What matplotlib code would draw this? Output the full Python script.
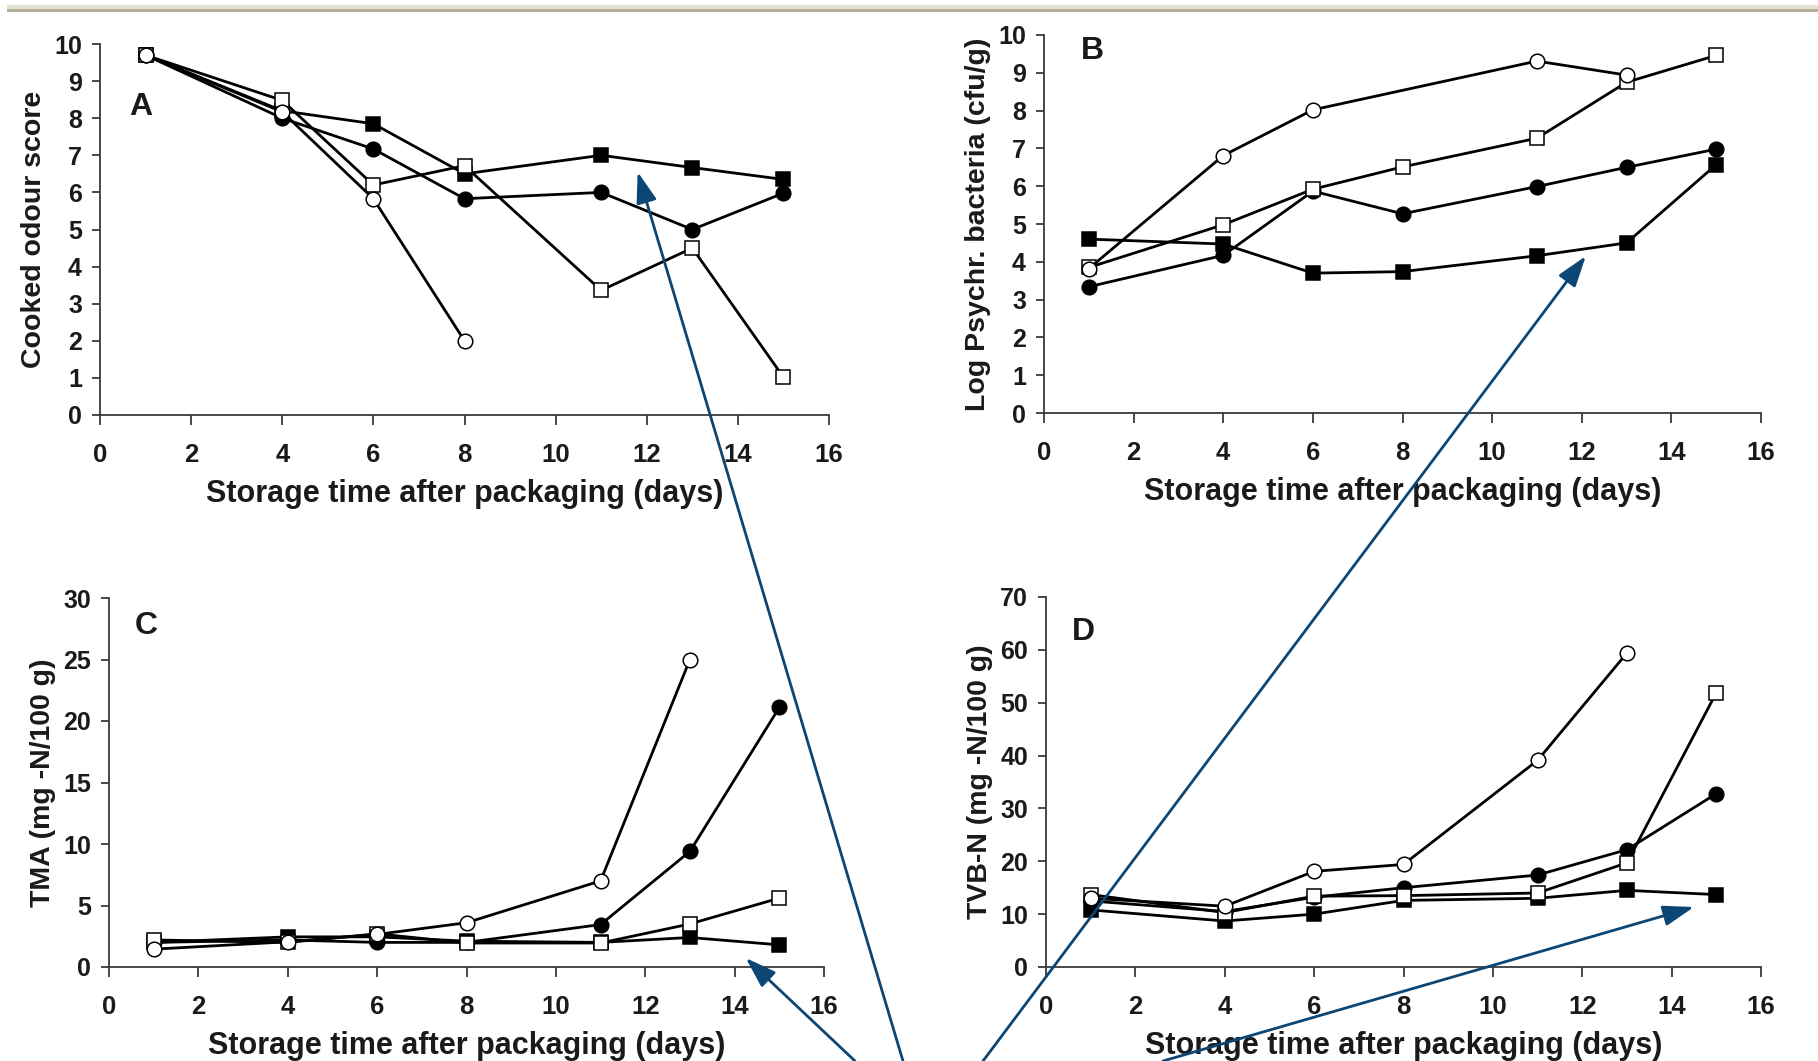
import numpy as np
import matplotlib
matplotlib.use("Agg")
import matplotlib.pyplot as plt
from matplotlib.patches import ConnectionPatch, Rectangle, ArrowStyle

plt.rcParams['font.family'] = ['Liberation Sans', 'DejaVu Sans']

nan = np.nan
days = [1, 4, 6, 8, 11, 13, 15]

# Panel A - cooked odour score
a_filled_sq = [9.7, 8.2, 7.85, 6.5, 7.0, 6.67, 6.35]
a_filled_ci = [9.7, 8.0, 7.17, 5.83, 6.0, 5.0, 5.98]
a_open_sq = [9.7, 8.48, 6.2, 6.72, 3.36, 4.5, 1.02]
a_open_ci = [9.7, 8.17, 5.83, 2.0, nan, nan, nan]

# Panel B - log psychrotrophic bacteria
b_filled_sq = [4.6, 4.47, 3.7, 3.74, 4.16, 4.5, 6.57]
b_filled_ci = [3.34, 4.17, 5.87, 5.27, 5.99, 6.5, 6.98]
b_open_sq = [3.85, 4.98, 5.92, 6.51, 7.27, 8.75, 9.46]
b_open_ci = [3.82, 6.81, 8.02, nan, 9.31, 8.94, nan]

# Panel C - TMA
c_filled_sq = [2.0, 2.45, 2.45, 2.1, 2.0, 2.4, 1.8]
c_filled_ci = [2.0, 2.2, 2.0, 2.0, 3.45, 9.4, 21.1]
c_open_sq = [2.2, 2.0, 2.7, 1.95, 1.95, 3.5, 5.6]
c_open_ci = [1.45, 2.05, 2.65, 3.6, 7.0, 25.0, nan]

# Panel D - TVB-N
d_filled_sq = [10.8, 8.7, 10.0, 12.6, 13.0, 14.5, 13.7]
d_filled_ci = [12.5, 10.5, 13.2, 15.0, 17.4, 22.2, 32.8]
d_open_sq = [13.7, 10.3, 13.4, 13.5, 14.0, 19.7, 51.9]
d_open_ci = [13.0, 11.5, 18.1, 19.4, 39.1, 59.4, nan]

xlabel = "Storage time after packaging (days)"
ylabels = ["Cooked odour score", "Log Psychr. bacteria (cfu/g)",
           "TMA (mg -N/100 g)", "TVB-N (mg -N/100 g)"]
letters = ["A", "B", "C", "D"]
ymax = [10, 10, 30, 70]
ystep = [1, 1, 5, 10]

W, H = 1818, 1061
fig = plt.figure(figsize=(W / 100, H / 100), dpi=100)
fig.patch.set_facecolor('white')

def rect(x0, x1, y0, y1):
    return [x0 / W, 1 - y0 / H, (x1 - x0) / W, (y0 - y1) / H]

positions = [rect(100, 829, 415, 44), rect(1044, 1761, 413, 35),
             rect(109, 824, 967, 598), rect(1046, 1761, 967, 597)]

panels = [
    (a_filled_sq, a_filled_ci, a_open_sq, a_open_ci),
    (b_filled_sq, b_filled_ci, b_open_sq, b_open_ci),
    (c_filled_sq, c_filled_ci, c_open_sq, c_open_ci),
    (d_filled_sq, d_filled_ci, d_open_sq, d_open_ci),
]
styles = [('s', 'black'), ('o', 'black'), ('s', 'white'), ('o', 'white')]

axes = []
spine_col = '#3a3a3a'
txt_col = '#1a1a1a'
for i, (pos, series) in enumerate(zip(positions, panels)):
    ax = fig.add_axes(pos)
    ax.set_facecolor('none')
    for vals, (mk, fc) in zip(series, styles):
        v = np.array(vals, dtype=float)
        x = np.array(days, dtype=float)
        ok = ~np.isnan(v)
        ax.plot(x[ok], v[ok], color='black', lw=2.0, marker=mk,
                markersize=10 if mk == 's' else 10.5,
                markerfacecolor=fc, markeredgecolor='black',
                markeredgewidth=1.1, clip_on=False, zorder=3)
    ax.set_xlim(0, 16)
    ax.set_ylim(0, ymax[i])
    ax.set_xticks(np.arange(0, 17, 2))
    ax.set_yticks(np.arange(0, ymax[i] + 0.1, ystep[i]))
    for s in ['top', 'right']:
        ax.spines[s].set_visible(False)
    for s in ['left', 'bottom']:
        ax.spines[s].set_color(spine_col)
        ax.spines[s].set_linewidth(1.3)
    ax.tick_params(axis='x', direction='out', length=7, width=1.3,
                   color=spine_col, pad=13, labelsize=18.5)
    ax.tick_params(axis='y', direction='out', length=6, width=1.3,
                   color=spine_col, pad=7, labelsize=18)
    for lab in ax.get_xticklabels() + ax.get_yticklabels():
        lab.set_fontweight('bold')
        lab.set_color(txt_col)
    ax.set_xlabel(xlabel, fontsize=22, fontweight='bold', labelpad=9,
                  color=txt_col)
    ax.set_ylabel(ylabels[i], fontsize=20.5, fontweight='bold', labelpad=5,
                  color=txt_col)
    axes.append(ax)

# panel letters
letter_pos = [(0.056, 0.83), (0.067, 0.958), (0.052, 0.923), (0.053, 0.906)]
for ax, l, (lx, ly) in zip(axes, letters, letter_pos):
    ax.text(lx, ly, l, transform=ax.transAxes, fontsize=23,
            fontweight='bold', ha='center', va='center', color=txt_col)

# arrows (heads in data coords, tails at bottom edge)
arrow_col = '#0b4675'
heads = [(0, 11.8, 6.55), (1, 12.09, 4.15), (2, 14.25, 0.73), (3, 14.5, 11.35)]
tails_px = [903, 983, 855, 1163]
style = ArrowStyle('-|>', head_length=1.35, head_width=0.45)
for (ai, hx, hy), tx in zip(heads, tails_px):
    cp = ConnectionPatch(xyA=(tx / W, 0.0), coordsA=fig.transFigure,
                         xyB=(hx, hy), coordsB=axes[ai].transData,
                         arrowstyle=style, mutation_scale=14,
                         color=arrow_col, lw=2.0, shrinkA=0, shrinkB=0,
                         zorder=10)
    fig.add_artist(cp)

# top bar (window strip)
fig.add_artist(Rectangle((7 / W, 1 - 9 / H), 1, 4 / H, transform=fig.transFigure,
                         facecolor='#e4e1d2', edgecolor='none', zorder=11))
fig.add_artist(Rectangle((7 / W, 1 - 12 / H), 1, 3.5 / H, transform=fig.transFigure,
                         facecolor='#b4af9a', edgecolor='none', zorder=11))

fig.savefig('out.png', dpi=100, facecolor='white')
